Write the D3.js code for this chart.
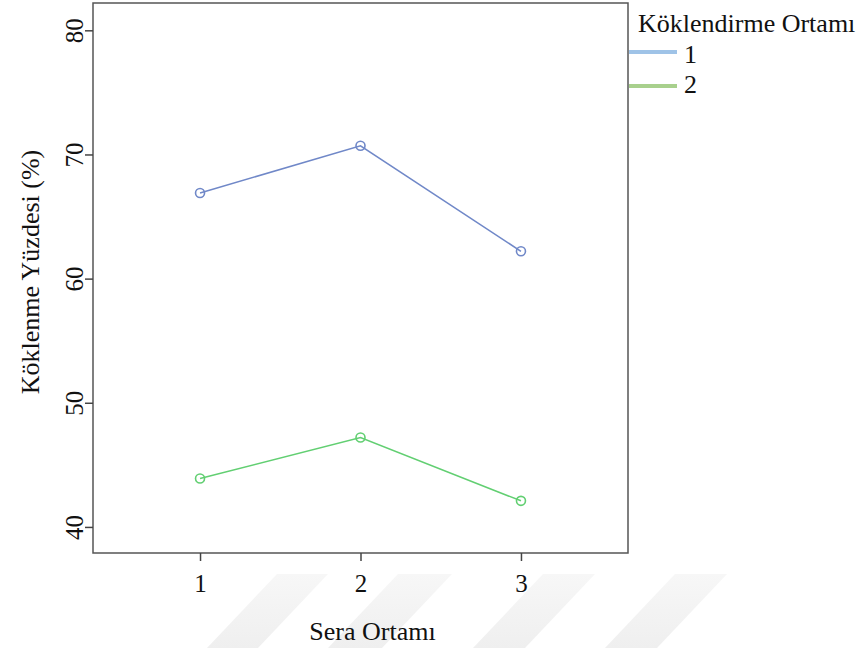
<!DOCTYPE html>
<html>
<head>
<meta charset="utf-8">
<script src="https://cdn.jsdelivr.net/npm/d3@7"></script>
<style>
  html, body { margin: 0; padding: 0; background: #fff; }
  svg text { font-family: "Liberation Serif", "Times New Roman", serif; fill: #111; }
</style>
</head>
<body>
<svg id="chart" width="867" height="648"></svg>
<script>
// Greenhouse environment categories (x axis)
const seraOrtami = ["1", "2", "3"];
// Rooting percentage per rooting medium
const ortam1 = [66.9, 70.7, 62.2];
const ortam2 = [43.9, 47.2, 42.1];
const yTicks = [40, 50, 60, 70, 80];
const seriesNames = ["1", "2"];
const lineColors = ["#7088c8", "#62cf72"];
const legendColors = ["#9fc3e7", "#a8d08d"];

const svg = d3.select("#chart");

// faint diagonal background bands
const grad = svg.append("defs").append("linearGradient")
  .attr("id", "bandFade").attr("x1", 0).attr("y1", 0).attr("x2", 0).attr("y2", 1);
grad.append("stop").attr("offset", "0%").attr("stop-color", "#f7f7f7");
grad.append("stop").attr("offset", "100%").attr("stop-color", "#efefef");
const bands = [[277, 328], [398, 452], [543, 595], [675, 727]];
svg.append("g").selectAll("path").data(bands).join("path")
  .attr("d", d => `M${d[0]},574 L${d[1]},574 L${d[1] - 70},648 L${d[0] - 70},648 Z`)
  .attr("fill", "url(#bandFade)");

const plot = { left: 93, top: 3, right: 628, bottom: 553 };

const x = d3.scalePoint().domain(seraOrtami)
  .range([plot.left, plot.right]).padding(0.667);
const y = d3.scaleLinear().domain([37.9, 82.2])
  .range([plot.bottom, plot.top]);

// frame
svg.append("rect")
  .attr("x", plot.left).attr("y", plot.top)
  .attr("width", plot.right - plot.left).attr("height", plot.bottom - plot.top)
  .attr("fill", "none").attr("stroke", "#555").attr("stroke-width", 1.5);

// y axis
const yAxis = svg.append("g")
  .attr("transform", `translate(${plot.left},0)`)
  .call(d3.axisLeft(y).tickValues(yTicks).tickSize(8).tickPadding(0));
yAxis.select(".domain").remove();
yAxis.selectAll(".tick line").attr("stroke", "#444").attr("stroke-width", 1.5);
yAxis.selectAll(".tick text")
  .attr("transform", "rotate(-90)")
  .attr("x", 0).attr("y", -10).attr("dy", 0)
  .attr("text-anchor", "middle")
  .style("font-size", "25px");

// x axis
const xAxis = svg.append("g")
  .attr("transform", `translate(0,${plot.bottom})`)
  .call(d3.axisBottom(x).tickSize(8));
xAxis.select(".domain").remove();
xAxis.selectAll(".tick line").attr("stroke", "#444").attr("stroke-width", 1.5);
xAxis.selectAll(".tick text")
  .attr("y", 39).attr("dy", 0)
  .style("font-size", "25px");

// axis titles
svg.append("text")
  .attr("transform", `translate(39,272) rotate(-90)`)
  .attr("text-anchor", "middle")
  .style("font-size", "26px")
  .text("Köklenme Yüzdesi (%)");
svg.append("text")
  .attr("x", x("2") + 12).attr("y", 640)
  .attr("text-anchor", "middle")
  .style("font-size", "26px")
  .text("Sera Ortamı");

// series
const series = [ortam1, ortam2];
const line = d3.line().x((d, i) => x(seraOrtami[i])).y(d => y(d));
series.forEach((vals, s) => {
  svg.append("path").datum(vals)
    .attr("d", line)
    .attr("fill", "none")
    .attr("stroke", lineColors[s])
    .attr("stroke-width", 1.6);
  svg.append("g").selectAll("circle").data(vals).join("circle")
    .attr("cx", (d, i) => x(seraOrtami[i]))
    .attr("cy", d => y(d))
    .attr("r", 4.5)
    .attr("fill", "none")
    .attr("stroke", lineColors[s])
    .attr("stroke-width", 1.6);
});

// legend
const legend = svg.append("g");
legend.append("text")
  .attr("x", 638).attr("y", 32)
  .style("font-size", "26px")
  .text("Köklendirme Ortamı");
seriesNames.forEach((name, i) => {
  const ly = 52 + i * 34;
  legend.append("line")
    .attr("x1", 629).attr("x2", 677).attr("y1", ly).attr("y2", ly)
    .attr("stroke", legendColors[i]).attr("stroke-width", 4);
  legend.append("text")
    .attr("x", 684).attr("y", 63 + i * 30)
    .style("font-size", "26px")
    .text(name);
});
</script>
</body>
</html>
